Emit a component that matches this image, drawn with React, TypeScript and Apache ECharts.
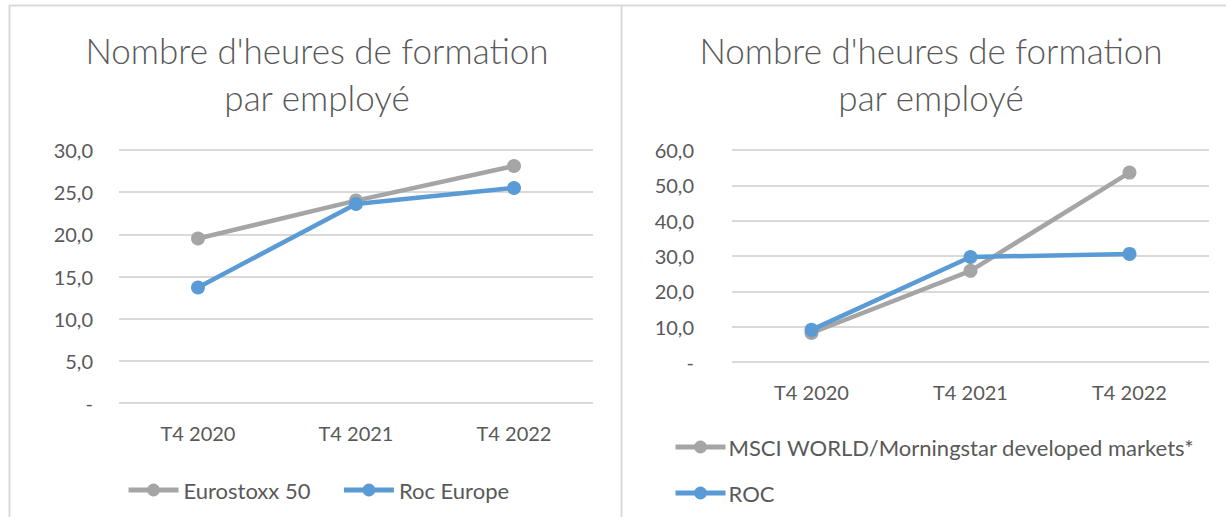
import React, { useEffect, useRef } from "react";
import * as echarts from "echarts";

const categories = ["T4 2020", "T4 2021", "T4 2022"];
const leftTitle = "Nombre d'heures de formation\npar employé";
const rightTitle = "Nombre d'heures de formation\npar employé";
const eurostoxx = [19.5, 24.0, 28.1];
const rocEurope = [13.7, 23.6, 25.5];
const msciWorld = [8.2, 25.8, 53.6];
const roc = [9.1, 29.7, 30.6];

const GRAY = "#a5a5a5";
const BLUE = "#5b9bd5";
const TEXT = "#595959";
const FONT = "Lato, 'Open Sans', sans-serif";
const FS = 20;
const LFS = 22;

const fmt = (v: number) => (v === 0 ? "-" : v.toFixed(1).replace(".", ","));

export default function App() {
  const ref = useRef<HTMLDivElement>(null);
  useEffect(() => {
    const chart = echarts.init(ref.current!, null, { renderer: "svg" });
    const lineSeries = (name: string, data: number[], color: string, idx: number) => ({
      name,
      type: "line",
      xAxisIndex: idx,
      yAxisIndex: idx,
      data,
      symbol: "circle",
      symbolSize: 14,
      lineStyle: { width: 4.5, color },
      itemStyle: { color },
      z: 3,
    });
    const xAxis = (gi: number) => ({
      type: "category",
      gridIndex: gi,
      data: categories,
      boundaryGap: true,
      axisLine: { show: false },
      axisTick: { show: false },
      axisLabel: { color: TEXT, fontSize: FS, fontFamily: FONT, margin: 20 },
    });
    const yAxis = (gi: number, max: number, interval: number, margin: number) => ({
      type: "value",
      gridIndex: gi,
      min: 0,
      max,
      interval,
      axisLine: { show: false },
      axisTick: { show: false },
      splitLine: { lineStyle: { color: "#d9d9d9", width: 2 } },
      axisLabel: { color: TEXT, fontSize: FS, fontFamily: FONT, margin, formatter: fmt },
    });
    const titleStyle = {
      color: TEXT,
      fontSize: 35,
      fontWeight: 300,
      fontFamily: FONT,
      lineHeight: 47,
    };
    chart.setOption({
      animation: false,
      backgroundColor: "#ffffff",
      title: [
        { text: leftTitle, left: 312, top: 21, textAlign: "center", textStyle: titleStyle },
        { text: rightTitle, left: 926, top: 21, textAlign: "center", textStyle: titleStyle },
      ],
      legend: [
        {
          data: ["Eurostoxx 50", "Roc Europe"],
          left: 121,
          top: 474,
          itemWidth: 50,
          itemHeight: 16,
          itemGap: 31,
          lineStyle: { width: 5 },
          textStyle: { color: TEXT, fontSize: LFS, fontFamily: FONT, padding: [0, 0, 0, 0] },
        },
        {
          data: ["MSCI WORLD/Morningstar developed markets*", "ROC"],
          orient: "vertical",
          left: 668,
          top: 431,
          itemWidth: 50,
          itemHeight: 16,
          itemGap: 24,
          lineStyle: { width: 5 },
          textStyle: { color: TEXT, fontSize: LFS, fontFamily: FONT, padding: [0, 0, 0, -2] },
        },
      ],
      grid: [
        { left: 119, top: 150, width: 474, height: 253, containLabel: false },
        { left: 732, top: 150, width: 477, height: 212, containLabel: false },
      ],
      xAxis: [xAxis(0), xAxis(1)],
      yAxis: [yAxis(0, 30, 5, 26), yAxis(1, 60, 10, 38)],
      series: [
        lineSeries("Eurostoxx 50", eurostoxx, GRAY, 0),
        lineSeries("Roc Europe", rocEurope, BLUE, 0),
        lineSeries("MSCI WORLD/Morningstar developed markets*", msciWorld, GRAY, 1),
        lineSeries("ROC", roc, BLUE, 1),
      ],
      graphic: [
        { type: "line", shape: { x1: 9, y1: 5.5, x2: 1226, y2: 5.5 }, style: { stroke: "#d9d9d9", lineWidth: 2 } },
        { type: "line", shape: { x1: 9.5, y1: 5, x2: 9.5, y2: 517 }, style: { stroke: "#d9d9d9", lineWidth: 2 } },
        { type: "line", shape: { x1: 621.5, y1: 5, x2: 621.5, y2: 517 }, style: { stroke: "#d9d9d9", lineWidth: 2 } },
      ],
    });
    return () => chart.dispose();
  }, []);
  return (
    <div
      ref={ref}
      style={{ position: "fixed", left: 0, top: 0, width: 1226, height: 517, background: "#fff" }}
    />
  );
}
